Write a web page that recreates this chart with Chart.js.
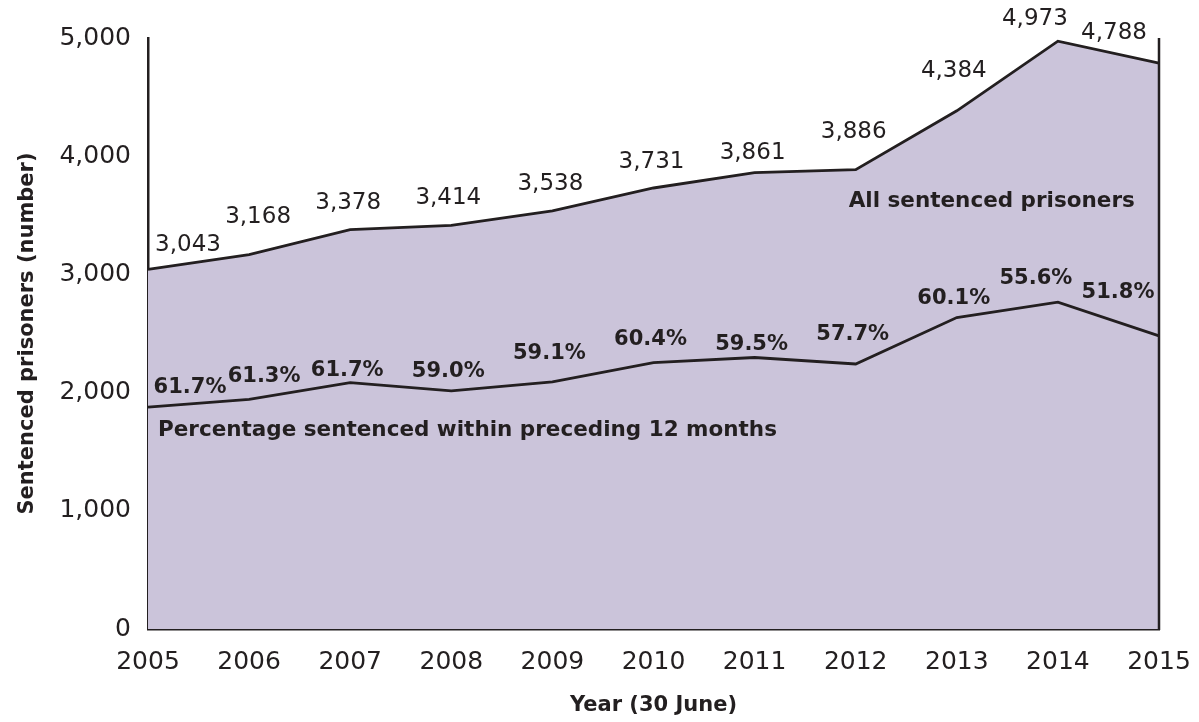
<!DOCTYPE html>
<html>
<head>
<meta charset="utf-8">
<script src="https://cdn.jsdelivr.net/npm/chart.js@4.4.1/dist/chart.umd.min.js"></script>
<style>
  html, body { margin: 0; padding: 0; background: #ffffff; }
  #wrap { width: 1199px; height: 722px; }
</style>
</head>
<body>
<div id="wrap"><canvas id="prisoners_chart" width="1199" height="722"></canvas></div>
<script>
// values
var years = ["2005", "2006", "2007", "2008", "2009", "2010", "2011", "2012", "2013", "2014", "2015"];
var all_sentenced = [3043, 3168, 3378, 3414, 3538, 3731, 3861, 3886, 4384, 4973, 4788];
var within_12_months = [1877, 1942, 2084, 2014, 2091, 2254, 2297, 2242, 2635, 2765, 2480];
var pct_labels = ["61.7%", "61.3%", "61.7%", "59.0%", "59.1%", "60.4%", "59.5%", "57.7%", "60.1%", "55.6%", "51.8%"];
var y_ticks = [0, 1000, 2000, 3000, 4000, 5000];

// label nudges (pixels from the point)
var top_dx = [40, 9, -2, -3, -2, -2, -2, -2, -3, -23, -45];
var top_dy = [-24, -38, -27, -27, -27, -26, -20, -38, -40, -22, -30];
var pct_dx = [42, 15, -3, -3, -3, -3, -3, -3, -3, -22, -41];
var pct_dy = [-20, -23, -12, -19, -28, -23, -13, -29, -19, -24, -43];

var ink = "#231f20";
var fill_colour = "#cbc4da";
var reg_font = "'DejaVu Sans', sans-serif";

function fmt(n) {
  return n.toLocaleString("en-US");
}

var labelPlugin = {
  id: "labelPlugin",
  afterDatasetsDraw: function(chart) {
    var ctx = chart.ctx;
    var area = chart.chartArea;
    var xs = chart.scales.x;
    var ys = chart.scales.y;
    ctx.save();

    // right hand frame line
    ctx.strokeStyle = ink;
    ctx.lineWidth = 2.5;
    ctx.beginPath();
    ctx.moveTo(area.right, area.top);
    ctx.lineTo(area.right, area.bottom + 1);
    ctx.stroke();

    ctx.fillStyle = ink;
    ctx.textAlign = "center";
    ctx.textBaseline = "middle";

    ctx.font = "23px " + reg_font;
    for (var i = 0; i < years.length; i++) {
      var px = xs.getPixelForValue(i);
      var py = ys.getPixelForValue(all_sentenced[i]);
      ctx.fillText(fmt(all_sentenced[i]), px + top_dx[i], py + top_dy[i]);
    }

    ctx.font = "bold 21px " + reg_font;
    for (var j = 0; j < years.length; j++) {
      var qx = xs.getPixelForValue(j);
      var qy = ys.getPixelForValue(within_12_months[j]);
      ctx.fillText(pct_labels[j], qx + pct_dx[j], qy + pct_dy[j]);
    }

    // series names
    ctx.textAlign = "left";
    ctx.font = "bold 21.5px " + reg_font;
    ctx.fillText("All sentenced prisoners", xs.getPixelForValue(7) - 7, ys.getPixelForValue(3620));
    ctx.fillText("Percentage sentenced within preceding 12 months", area.left + 10, ys.getPixelForValue(1680));
    ctx.restore();
  }
};

function create_area_chart(canvas_id) {
  let chart = new Chart(document.getElementById(canvas_id), {
    type: "line",
    data: {
      labels: years,
      datasets: [{
        label: "All sentenced prisoners",
        data: all_sentenced,
        borderColor: ink,
        borderWidth: 2.8,
        backgroundColor: fill_colour,
        fill: "origin",
        pointRadius: 0,
        tension: 0,
        order: 2
      }, {
        label: "Percentage sentenced within preceding 12 months",
        data: within_12_months,
        borderColor: ink,
        borderWidth: 2.8,
        fill: false,
        pointRadius: 0,
        tension: 0,
        order: 1
      }]
    },
    options: {
      responsive: false,
      maintainAspectRatio: false,
      animation: false,
      layout: { padding: { top: 38, right: 40, left: 0, bottom: 0 } },
      plugins: {
        legend: { display: false },
        tooltip: { enabled: false }
      },
      scales: {
        x: {
          offset: false,
          grid: { display: false, drawTicks: false },
          border: { display: true, color: ink, width: 2.5 },
          ticks: {
            color: ink,
            font: { family: reg_font, size: 25 },
            padding: 18,
            maxRotation: 0,
            autoSkip: false
          },
          title: {
            display: true,
            text: "Year (30 June)",
            color: ink,
            font: { family: reg_font, size: 21, weight: "bold" },
            padding: { top: 0, bottom: 4 }
          },
          afterFit: function(scale) {
            scale.height = 93;
            scale.paddingLeft = 0;
            scale.paddingRight = 0;
          }
        },
        y: {
          min: 0,
          max: 5000,
          afterBuildTicks: function(scale) {
            scale.ticks = y_ticks.map(function(v) { return { value: v }; });
          },
          grid: { display: false, drawTicks: false },
          border: { display: true, color: ink, width: 2.5 },
          ticks: {
            color: ink,
            font: { family: reg_font, size: 25 },
            padding: 17,
            callback: function(v) { return fmt(v); }
          },
          title: {
            display: true,
            text: "Sentenced prisoners (number)",
            color: ink,
            font: { family: reg_font, size: 21, weight: "bold" },
            padding: { top: 15, bottom: 0 }
          },
          afterFit: function(scale) { scale.width = 148; }
        }
      }
    },
    plugins: [labelPlugin]
  });
  return chart;
}

create_area_chart("prisoners_chart");
</script>
</body>
</html>
